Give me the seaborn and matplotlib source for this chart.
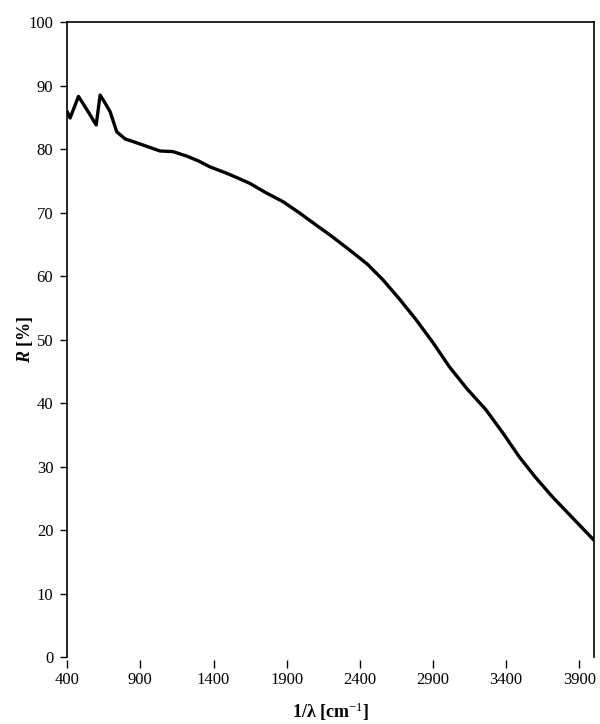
import pandas as pd
import numpy as np
import matplotlib
matplotlib.use('Agg')
import matplotlib.pyplot as plt
import seaborn as sns
sns.set_theme(style='white')
plt.rcParams['font.family'] = ['Liberation Serif', 'DejaVu Serif']
plt.rcParams['mathtext.fontset'] = 'custom'
plt.rcParams['mathtext.rm'] = 'Liberation Serif'
plt.rcParams['mathtext.it'] = 'Liberation Serif:italic:bold'
plt.rcParams['mathtext.bf'] = 'Liberation Serif:bold'

# wavenumber [cm-1] and reflectance [%]
wavenumber = [400, 420, 477, 540, 598, 625, 660, 693, 739, 796, 898, 1034, 1123,
              1216, 1300, 1375, 1489, 1570, 1648, 1760, 1876, 1990, 2103, 2200,
              2330, 2450, 2558, 2670, 2785, 2900, 3012, 3130, 3263, 3380, 3490,
              3600, 3717, 3850, 3979, 4000]
reflectance = [85.9, 84.9, 88.3, 86.0, 83.8, 88.5, 87.2, 85.9, 82.7, 81.6, 80.8,
               79.7, 79.6, 78.9, 78.1, 77.2, 76.2, 75.4, 74.6, 73.1, 71.7, 69.9,
               68.0, 66.4, 64.1, 61.9, 59.4, 56.4, 53.1, 49.5, 45.7, 42.3, 38.9,
               35.2, 31.5, 28.3, 25.2, 22.0, 18.9, 18.4]
x_ticks = [400, 900, 1400, 1900, 2400, 2900, 3400, 3900]
y_ticks = [0, 10, 20, 30, 40, 50, 60, 70, 80, 90, 100]

data2plot = pd.DataFrame({'nu': wavenumber, 'R': reflectance})

fig = plt.figure(figsize=(6, 7.24), dpi=100)
ax = fig.add_axes([0.112, 0.0925, 0.878, 0.877])
sns.lineplot(data=data2plot, x='nu', y='R', color='black', linewidth=2.4, ax=ax)

ax.set_xlim(400, 4000)
ax.set_ylim(0, 100)
ax.set_xticks(x_ticks)
ax.set_yticks(y_ticks)

for s in ['left', 'top', 'right']:
    ax.spines[s].set_color('black')
    ax.spines[s].set_linewidth(1.2)
ax.spines['bottom'].set_position(('outward', 2))
ax.spines['bottom'].set_visible(False)

ax.tick_params(axis='y', direction='out', length=5, width=1, color='black',
               labelcolor='black', labelsize=12, pad=5, left=True)
ax.tick_params(axis='x', direction='out', length=6, width=1, color='black',
               labelcolor='black', labelsize=12, pad=3, bottom=True)

ax.set_xlabel(r'1/λ [cm$^{-1}$]', fontsize=13, fontweight='bold', color='black')
ax.set_ylabel(r'$\it{R}$ [%]', fontsize=13, fontweight='bold', color='black')
ax.xaxis.set_label_coords(0.5, -0.068)
ax.yaxis.set_label_coords(-0.062, 0.5)

plt.savefig('out.png', dpi=100)
